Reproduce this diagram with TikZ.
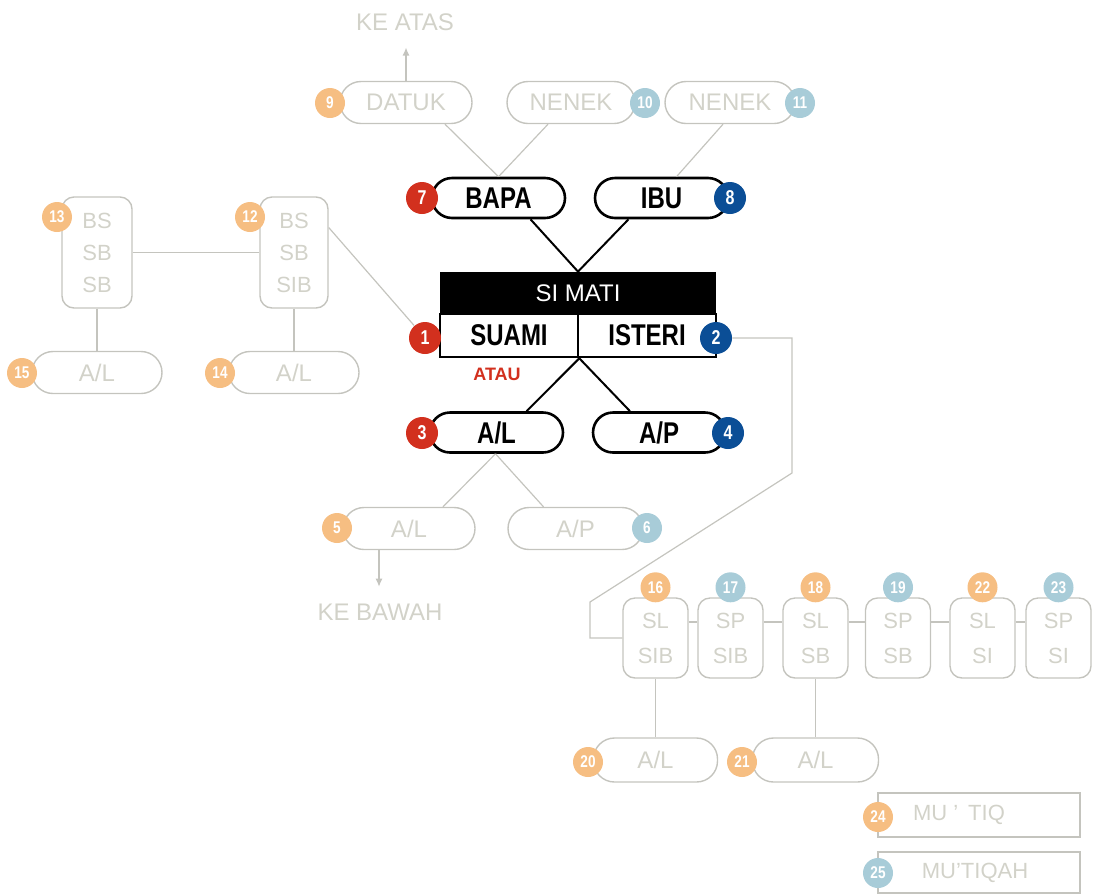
\documentclass[tikz,border=0pt]{standalone}
\usepackage{fontspec}
\setmainfont{Liberation Sans}
\newfontfamily\narrowfont[FakeStretch=0.8]{Liberation Sans}
\usetikzlibrary{arrows.meta}
\usetikzlibrary{calc}
\definecolor{badgered}{HTML}{D2301E}
\definecolor{badgeblue}{HTML}{0B4E96}
\definecolor{badgeorange}{HTML}{F6BE82}
\definecolor{badgesky}{HTML}{A8CCD8}
\definecolor{linegray}{HTML}{C4C4BE}
\definecolor{textgray}{HTML}{D2D2C9}

\tikzset{
  mainpill/.style={draw=black, line width=1.3pt, rounded corners=10pt, minimum height=20pt,
    font=\narrowfont\bfseries\fontsize{15}{18}\selectfont},
  faintpill/.style={draw=linegray, line width=0.7pt, rounded corners=10.5pt, minimum height=21pt,
    text=textgray, font=\fontsize{12}{14}\selectfont},
  faintbox/.style={draw=linegray, line width=0.7pt, rounded corners=6pt, inner sep=0pt,
    align=center, text=textgray},
  faintrect/.style={draw=linegray, line width=0.7pt, minimum width=101pt,
    text=textgray, font=\fontsize{11}{13}\selectfont},
  badge/.style={circle, inner sep=0pt, minimum size=16pt, text=white,
    font=\narrowfont\bfseries\fontsize{10}{12}\selectfont},
  faintbadge/.style={badge, minimum size=15pt, font=\narrowfont\bfseries\fontsize{8.5}{10}\selectfont},
  mainline/.style={line width=1pt},
  faintline/.style={draw=linegray, line width=0.6pt},
  farnote/.style={text=textgray, font=\fontsize{12}{14}\selectfont},
}

\begin{document}
\begin{tikzpicture}[x=0.5pt, y=-0.5pt]

    \useasboundingbox (0,0) rectangle (1107,895);

    % Grandparents
    \node[faintpill, minimum width=66pt] (datuk) at (406,102.5) {DATUK};
    \node[faintpill, minimum width=64pt] (nenekA) at (571,102.5) {NENEK};
    \node[faintpill, minimum width=65pt] (nenekB) at (730,102.5) {NENEK};
    \node[farnote] (keatas) at (405,22) {KE ATAS};

    % Parents
    \node[mainpill, minimum width=66.5pt] (bapa) at (498.5,198) {BAPA};
    \node[mainpill, minimum width=66.5pt] (ibu) at (661.5,198) {IBU};

    % Si mati
    \node[fill=black, text=white, minimum width=138pt, minimum height=21pt,
      font=\fontsize{12}{14}\selectfont] (simati) at (578,293) {SI MATI};
    \node[draw, line width=1.3pt, minimum width=69pt, minimum height=21.5pt,
      font=\narrowfont\bfseries\fontsize{15}{18}\selectfont] (suami) at (509,335.5) {SUAMI};
    \node[draw, line width=1.3pt, minimum width=69pt, minimum height=21.5pt,
      font=\narrowfont\bfseries\fontsize{15}{18}\selectfont] (isteri) at (647,335.5) {ISTERI};
    \node[text=badgered, font=\bfseries\fontsize{9}{11}\selectfont] (atau) at (497,374) {ATAU};

    % Children
    \node[mainpill, minimum width=66.5pt] (anakL) at (496.5,432.5) {A/L};
    \node[mainpill, minimum width=66pt] (anakP) at (659,432.5) {A/P};

    % Grandchildren
    \node[faintpill, minimum width=66pt] (cucuL) at (409,528.5) {A/L};
    \node[faintpill, minimum width=67.5pt] (cucuP) at (575.5,528.5) {A/P};
    \node[farnote] (kebawah) at (380,612) {KE BAWAH};

    % Brothers
    \node[faintbox, minimum width=35pt, minimum height=55.5pt,
      font=\fontsize{11}{16}\selectfont] (bsA) at (97,252.5) {BS\\SB\\SB};
    \node[faintbox, minimum width=34pt, minimum height=55.5pt,
      font=\fontsize{11}{16}\selectfont] (bsB) at (294,252.5) {BS\\SB\\SIB};
    \node[faintpill, minimum width=65pt] (alA) at (97,372.5) {A/L};
    \node[faintpill, minimum width=65pt] (alB) at (294,372.5) {A/L};

    % Siblings row
    \foreach \nm/\xx/\txt in {slA/655.5/SL\\SIB, spA/730.5/SP\\SIB, slB/815.5/SL\\SB,
        spB/898/SP\\SB, slC/982.5/SL\\SI, spC/1058.5/SP\\SI}
      \node[faintbox, minimum width=32.5pt, minimum height=40pt,
        font=\fontsize{11}{17.5}\selectfont] (\nm) at (\xx,638) {\txt};
    \node[faintpill, minimum width=62pt, minimum height=22pt] (alC) at (655.5,760) {A/L};
    \node[faintpill, minimum width=63pt, minimum height=22pt] (alD) at (815.5,760) {A/L};

    % Mu'tiq
    \node[faintrect, minimum height=22pt] (mutiq) at (979,815) {MU\kern3pt'\kern5pt TIQ\kern20pt};
    \node[faintrect, minimum height=20.5pt] (mutiqah) at (979,872.5) {MU'TIQAH\kern4pt};

    % Black lines
    \draw[mainline] ($(bapa.south)+(32,0)$) -- (simati.north);
    \draw[mainline] ($(ibu.south)+(-33,0)$) -- (simati.north);
    \draw[mainline] (suami.south east) -- ($(anakL.north)+(30,0)$);
    \draw[mainline] (suami.south east) -- ($(anakP.north)+(-29,0)$);

    % Grey lines
    \draw[faintline] ($(datuk.south)+(39,0)$) -- (bapa.north);
    \draw[faintline] ($(nenekA.south)+(-23,0)$) -- (bapa.north);
    \draw[faintline] ($(nenekB.south)+(-7,0)$) -- ($(ibu.north)+(15,0)$);
    \draw[faintline, -{Latex[length=4pt, width=3.5pt]}, shorten >=5pt] (datuk.north) -- (keatas.south -| datuk.north);
    \draw[faintline] ($(anakL.south)+(-1,0)$) -- ($(cucuL.north)+(34,0)$);
    \draw[faintline] ($(anakL.south)+(-1,0)$) -- ($(cucuP.north)+(-32,0)$);
    \draw[faintline, -{Latex[length=4pt, width=3.5pt]}, shorten >=5pt] ($(cucuL.south)+(-30,0)$) -- (kebawah.north -| {$(cucuL.south)+(-30,0)$});

    \draw[faintline] (bsA.east) -- (bsB.west);
    \draw[faintline] (bsA.south) -- (alA.north);
    \draw[faintline] (bsB.south) -- (alB.north);

    \foreach \a/\b in {slA/spA, spA/slB, slB/spB, spB/slC, slC/spC}
      \draw[faintline] ($(\a.east)+(0,-16)$) -- ($(\b.west)+(0,-16)$);
    \draw[faintline] (slA.south) -- (slA.south |- alC.north);
    \draw[faintline] (slB.south) -- (slB.south |- alD.north);

    % Number badges
    \node[badge, fill=badgered] (b1) at (425,338) {1};
    \node[badge, fill=badgeblue] (b2) at (716,338) {2};
    \node[badge, fill=badgered] (b3) at (422,433) {3};
    \node[badge, fill=badgeblue] (b4) at (728,433) {4};
    \node[badge, fill=badgered] (b7) at (422,198) {7};
    \node[badge, fill=badgeblue] (b8) at (730,198) {8};

    \node[faintbadge, fill=badgeorange] (b5) at (337,528) {5};
    \node[faintbadge, fill=badgesky] (b6) at (647,528) {6};
    \node[faintbadge, fill=badgeorange] (b9) at (330,103) {9};
    \node[faintbadge, fill=badgesky] (b10) at (645,103) {10};
    \node[faintbadge, fill=badgesky] (b11) at (800,103) {11};
    \node[faintbadge, fill=badgeorange] (b12) at (250,217) {12};
    \node[faintbadge, fill=badgeorange] (b13) at (57,217) {13};
    \node[faintbadge, fill=badgeorange] (b14) at (220,373) {14};
    \node[faintbadge, fill=badgeorange] (b15) at (22,373) {15};
    \foreach \nm/\num/\col in {slA/16/badgeorange, spA/17/badgesky, slB/18/badgeorange,
        spB/19/badgesky, slC/22/badgeorange, spC/23/badgesky}
      \node[faintbadge, fill=\col] (b\num) at ($(\nm.north)+(0,-10)$) {\num};
    \node[faintbadge, fill=badgeorange] (b20) at (588,762) {20};
    \node[faintbadge, fill=badgeorange] (b21) at (742,762) {21};
    \node[faintbadge, fill=badgeorange] (b24) at (878,817) {24};
    \node[faintbadge, fill=badgesky] (b25) at (878,873) {25};

    % Links to the badges
    \draw[faintline] ($(bsB.east)+(0,-25)$) -- (b1);
    \draw[faintline] (b2.east) -- (792,338) -- (792,473) -- (590,602) |- (slA.west);

\end{tikzpicture}
\end{document}
